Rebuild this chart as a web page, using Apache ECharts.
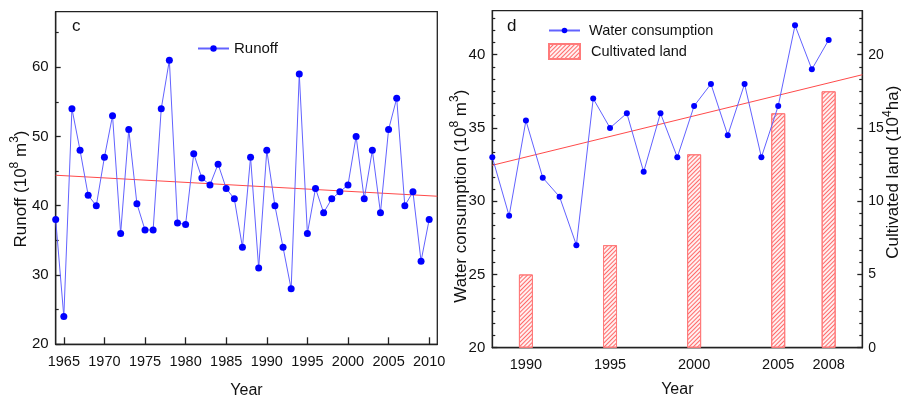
<!DOCTYPE html>
<html>
<head>
<meta charset="utf-8">
<script src="https://cdn.jsdelivr.net/npm/echarts@6/dist/echarts.min.js"></script>
<style>
  html, body { margin: 0; padding: 0; background: #fff; }
  #main { width: 901px; height: 398px; }
</style>
</head>
<body>
<div id="main"></div>
<script>
// panel c: runoff
var runoffYears = [1964, 1965, 1966, 1967, 1968, 1969, 1970, 1971, 1972, 1973,
  1974, 1975, 1976, 1977, 1978, 1979, 1980, 1981, 1982, 1983,
  1984, 1985, 1986, 1987, 1988, 1989, 1990, 1991, 1992, 1993,
  1994, 1995, 1996, 1997, 1998, 1999, 2000, 2001, 2002, 2003,
  2004, 2005, 2006, 2007, 2008, 2009, 2010];
var runoffValues = [38, 24, 54, 48, 41.5, 40, 47, 53, 36, 51,
  40.3, 36.5, 36.5, 54, 61, 37.5, 37.3, 47.5, 44, 43,
  46, 42.5, 41, 34, 47, 31, 48, 40, 34, 28,
  59, 36, 42.5, 39, 41, 42, 43, 50, 41, 48,
  39, 51, 55.5, 40, 42, 32, 38];
var runoffTrendYears = [1964, 2011];
var runoffTrendValues = [44.4, 41.37];
var runoffYearTicks = [1965, 1970, 1975, 1980, 1985, 1990, 1995, 2000, 2005, 2010];
var runoffTicks = [20, 30, 40, 50, 60];
var runoffMinorTicks = [25, 35, 45, 55, 65];

// panel d: water consumption + cultivated land
var waterYears = [1988, 1989, 1990, 1991, 1992, 1993, 1994, 1995, 1996, 1997,
  1998, 1999, 2000, 2001, 2002, 2003, 2004, 2005, 2006, 2007, 2008];
var waterValues = [33, 29, 35.5, 31.6, 30.3, 27, 37, 35, 36, 32,
  36, 33, 36.5, 38, 34.5, 38, 33, 36.5, 42, 39, 41];
var waterTrendYears = [1988, 2010];
var waterTrendValues = [32.45, 38.63];
var landYears = [1990, 1995, 2000, 2005, 2008];
var landValues = [5, 7, 13.2, 16, 17.5];
var waterTicks = [20, 25, 30, 35, 40];
var landTicks = [0, 5, 10, 15, 20];

function pairs(xs, ys) {
  var out = [];
  for (var i = 0; i < xs.length; i++) out.push([xs[i], ys[i]]);
  return out;
}
// minor ticks: 5 between every pair of major ticks (step / 6)
function minors(from, to, step) {
  var out = [];
  for (var i = 1; from + i * step / 6 < to; i++) {
    if (i % 6 !== 0) out.push(+(from + i * step / 6).toFixed(4));
  }
  return out;
}
function plain(v) { return String(v); }

var FONT = 'Liberation Sans, Arial, sans-serif';
var AX = '#222';
var lineCol = '#6262ff';
var dotCol = '#0000ff';
var trendCol = '#ff4a4a';

var chart = echarts.init(document.getElementById('main'));

var axisLine = { onZero: false, lineStyle: { color: AX, width: 1.3 } };
var nameRich = {
  a: { fontSize: 17, fontFamily: FONT, color: '#111', lineHeight: 26 },
  s: { fontSize: 12, fontFamily: FONT, color: '#111', verticalAlign: 'top', lineHeight: 12 }
};
var nameRichR = {
  a: { fontSize: 17, fontFamily: FONT, color: '#111', lineHeight: 24 },
  s: { fontSize: 12, fontFamily: FONT, color: '#111', verticalAlign: 'top', lineHeight: 12 }
};

var option = {
  backgroundColor: '#fff',
  animation: false,
  textStyle: { fontFamily: FONT, color: '#111' },
  title: [
    { text: 'c', left: 72, top: 18, padding: 0, textStyle: { fontSize: 17, fontWeight: 'normal', fontFamily: FONT, color: '#111' } },
    { text: 'd', left: 507, top: 18, padding: 0, textStyle: { fontSize: 17, fontWeight: 'normal', fontFamily: FONT, color: '#111' } }
  ],
  legend: [
    { data: ['Runoff'], left: 192, top: 36, itemWidth: 31, itemHeight: 8, selectedMode: false,
      textStyle: { fontSize: 15, fontFamily: FONT, color: '#111' } },
    { data: ['Water consumption'], left: 543, top: 18, itemWidth: 31, itemHeight: 7, selectedMode: false,
      textStyle: { fontSize: 14.5, fontFamily: FONT, color: '#111', padding: [0, 0, 0, 4] } },
    { data: [{ name: 'Cultivated land', icon: 'rect' }], left: 543, top: 38, itemWidth: 31, itemHeight: 15, selectedMode: false,
      textStyle: { fontSize: 14.5, fontFamily: FONT, color: '#111', padding: [0, 0, 0, 6] } }
  ],
  grid: [
    { left: 55.7, top: 11.7, width: 381.6, height: 332.6, outerBoundsMode: 'none',
      show: true, borderColor: AX, borderWidth: 1.3, backgroundColor: 'transparent' },
    { left: 492.3, top: 10.7, width: 370, height: 337, outerBoundsMode: 'none',
      show: true, borderColor: AX, borderWidth: 1.3, backgroundColor: 'transparent' }
  ],
  xAxis: [
    {
      gridIndex: 0, type: 'value', min: 1964, max: 2011,
      axisLine: axisLine,
      axisTick: { inside: true, length: 7, customValues: runoffYearTicks, lineStyle: { color: AX, width: 1.3 } },
      axisLabel: { customValues: runoffYearTicks, formatter: plain, margin: 10, fontSize: 14.5, color: '#111', fontFamily: FONT },
      splitLine: { show: false },
      name: 'Year', nameLocation: 'middle', nameGap: 38, nameMoveOverlap: false,
      nameTextStyle: { fontSize: 16, fontFamily: FONT, color: '#111', lineHeight: 16 }
    },
    {
      gridIndex: 1, type: 'value', min: 1988, max: 2010,
      axisLine: axisLine,
      axisTick: { inside: true, length: 5, customValues: landYears, lineStyle: { color: '#555', width: 1.3 } },
      axisLabel: { customValues: landYears, formatter: plain, margin: 10, fontSize: 14.5, color: '#111', fontFamily: FONT },
      splitLine: { show: false },
      name: 'Year', nameLocation: 'middle', nameGap: 34, nameMoveOverlap: false,
      nameTextStyle: { fontSize: 16, fontFamily: FONT, color: '#111', lineHeight: 16 }
    }
  ],
  yAxis: [
    {
      gridIndex: 0, type: 'value', position: 'left', min: 20, max: 68,
      axisLine: axisLine,
      axisTick: { inside: true, length: 5, customValues: runoffTicks, lineStyle: { color: AX, width: 1.3 } },
      axisLabel: { customValues: runoffTicks, margin: 7, fontSize: 15, color: '#111', fontFamily: FONT },
      splitLine: { show: false },
      name: '{a|Runoff (10}{s|8}{a| m}{s|3}{a|)}', nameLocation: 'middle', nameGap: 21, nameMoveOverlap: false,
      nameTextStyle: { rich: nameRich, padding: [0, 22, 0, 0] }
    },
    {
      gridIndex: 0, type: 'value', position: 'left', min: 20, max: 68,
      axisLine: { show: false },
      axisTick: { inside: true, length: 3, customValues: runoffMinorTicks, lineStyle: { color: AX, width: 1.2 } },
      axisLabel: { show: false },
      splitLine: { show: false }
    },
    {
      gridIndex: 1, type: 'value', position: 'left', min: 20, max: 43,
      axisLine: axisLine,
      axisTick: { inside: true, length: 5, customValues: waterTicks, lineStyle: { color: AX, width: 1.3 } },
      axisLabel: { customValues: waterTicks, margin: 7, fontSize: 15, color: '#111', fontFamily: FONT },
      splitLine: { show: false },
      name: '{a|Water consumption (10}{s|8}{a| m}{s|3}{a|)}', nameLocation: 'middle', nameGap: 18, nameMoveOverlap: false,
      nameTextStyle: { rich: nameRich, padding: [0, 34, 0, 0] }
    },
    {
      gridIndex: 1, type: 'value', position: 'left', min: 20, max: 43,
      axisLine: { show: false },
      axisTick: { inside: true, length: 3, customValues: minors(20, 43, 5), lineStyle: { color: AX, width: 1.2 } },
      axisLabel: { show: false },
      splitLine: { show: false }
    },
    {
      gridIndex: 1, type: 'value', position: 'right', min: 0, max: 23,
      axisLine: axisLine,
      axisTick: { inside: true, length: 5, customValues: landTicks, lineStyle: { color: AX, width: 1.3 } },
      axisLabel: { customValues: landTicks, margin: 6, fontSize: 14, color: '#111', fontFamily: FONT },
      splitLine: { show: false },
      name: '{a|Cultivated land (10}{s|4}{a|ha)}', nameLocation: 'middle', nameGap: 19, nameMoveOverlap: false,
      nameTextStyle: { rich: nameRichR, padding: [0, 0, 0, 14] }
    },
    {
      gridIndex: 1, type: 'value', position: 'right', min: 0, max: 23,
      axisLine: { show: false },
      axisTick: { inside: true, length: 3, customValues: minors(0, 23, 5), lineStyle: { color: AX, width: 1.2 } },
      axisLabel: { show: false },
      splitLine: { show: false }
    }
  ],
  series: [
    {
      name: 'Runoff', type: 'line', xAxisIndex: 0, yAxisIndex: 0,
      data: pairs(runoffYears, runoffValues),
      symbol: 'circle', symbolSize: 7, z: 4,
      lineStyle: { color: lineCol, width: 1 },
      itemStyle: { color: dotCol }
    },
    {
      name: 'runoff trend', type: 'line', xAxisIndex: 0, yAxisIndex: 0,
      data: pairs(runoffTrendYears, runoffTrendValues),
      symbol: 'none', z: 3,
      lineStyle: { color: trendCol, width: 1 }
    },
    {
      name: 'Cultivated land', type: 'bar', xAxisIndex: 1, yAxisIndex: 4,
      data: pairs(landYears, landValues),
      barWidth: 14, z: 2,
      itemStyle: {
        color: '#fff0f0', borderColor: '#ff7a7a', borderWidth: 1,
        decal: { symbol: 'rect', symbolSize: 1, dashArrayX: [1, 0], dashArrayY: [1, 2], rotation: -Math.PI / 4, color: '#ff6a6a' }
      }
    },
    {
      name: 'Water consumption', type: 'line', xAxisIndex: 1, yAxisIndex: 2,
      data: pairs(waterYears, waterValues),
      symbol: 'circle', symbolSize: 6, z: 4,
      lineStyle: { color: lineCol, width: 1 },
      itemStyle: { color: dotCol }
    },
    {
      name: 'water trend', type: 'line', xAxisIndex: 1, yAxisIndex: 2,
      data: pairs(waterTrendYears, waterTrendValues),
      symbol: 'none', z: 3,
      lineStyle: { color: trendCol, width: 1 }
    }
  ]
};

chart.setOption(option);
</script>
</body>
</html>
